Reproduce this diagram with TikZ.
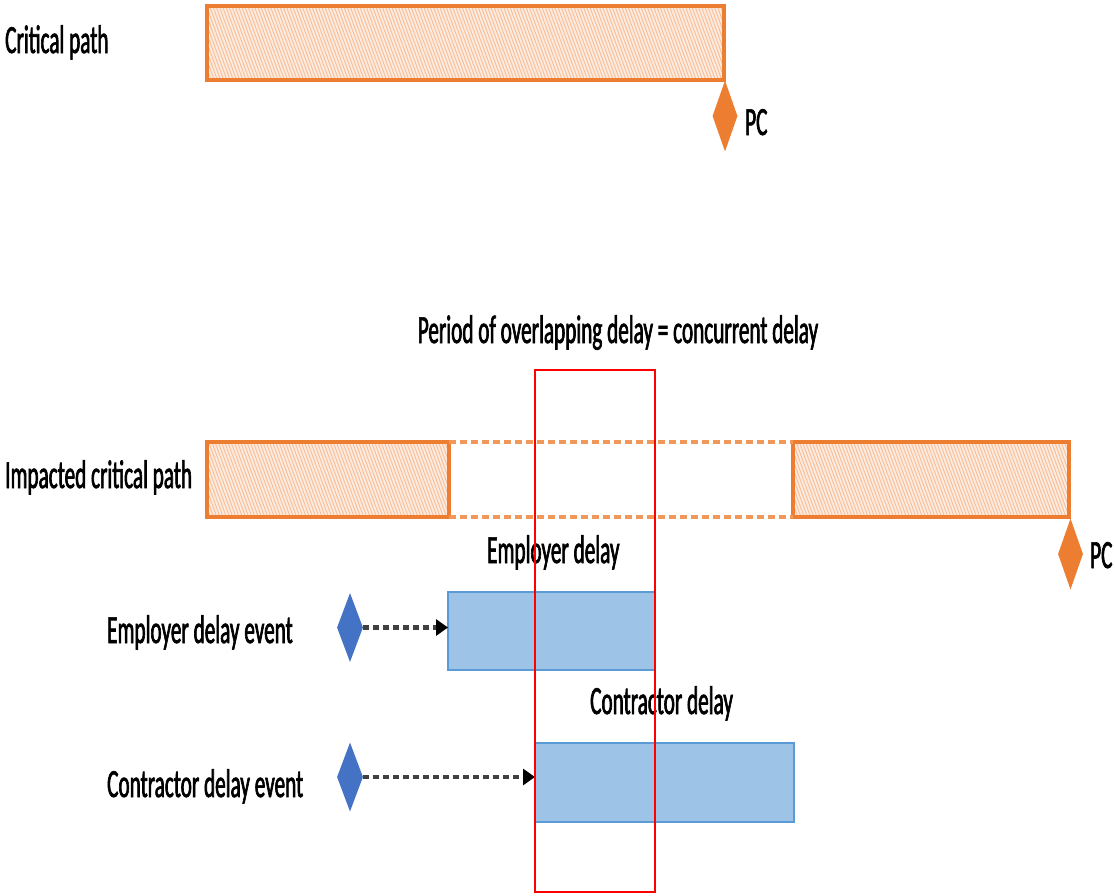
\documentclass[tikz,border=0pt]{standalone}
\usepackage{fontspec}
\setmainfont{Carlito}[FakeStretch=0.53,FakeBold=1.6]
\usetikzlibrary{shapes.geometric,arrows.meta,patterns.meta}
\definecolor{pathorange}{HTML}{ED7D31}
\definecolor{hatchorange}{HTML}{F6BD96}
\definecolor{palepeach}{HTML}{FDEBDF}
\definecolor{delayfill}{HTML}{9DC3E6}
\definecolor{delayedge}{HTML}{5B9BD5}
\definecolor{eventblue}{HTML}{4472C4}
\definecolor{arrowgrey}{HTML}{404040}

\begin{document}
\begin{tikzpicture}[x=1pt,y=-1pt,
  lbl/.style={font=\fontsize{40}{44}\selectfont, inner sep=0pt, text=black},
  pathbar/.style={draw=pathorange, line width=3.5pt, outer sep=0pt, inner sep=0pt,
    preaction={fill=palepeach},
    pattern={Lines[angle=-70,distance=3pt,line width=0.9pt]}, pattern color=hatchorange},
  gapline/.style={draw=pathorange!80, line width=4.5pt, dash pattern=on 7pt off 4pt},
  milestone/.style={diamond, inner sep=0pt, minimum width=25pt, minimum height=71pt, fill=pathorange},
  eventmark/.style={diamond, inner sep=0pt, minimum width=26pt, minimum height=69pt, fill=eventblue},
  delaybar/.style={draw=delayedge, line width=1.5pt, fill=delayfill, outer sep=0pt, inner sep=0pt},
  eventarrow/.style={draw=arrowgrey, line width=4.5pt, dash pattern=on 6pt off 4pt,
    -{Triangle[length=12pt,width=16pt,fill=black,color=black]}},
  overlapbox/.style={draw=red, line width=2pt, inner sep=0pt}
]
\useasboundingbox (0,0) rectangle (1115,895);

% planned programme
\node[lbl, anchor=base west] (cplabel) at (5,53) {Critical path};
\node[pathbar, minimum width=517pt, minimum height=74pt] (cpbar) at (465.5,43) {};
\node[milestone] (pc1) at (725,116) {};
\node[lbl, anchor=base west] (pc1label) at (745,135) {PC};

% impacted programme
\node[lbl, anchor=base] (overlaplabel) at (618,343) {Period of overlapping delay = concurrent delay};
\node[lbl, anchor=base west] (iplabel) at (5,488) {Impacted critical path};
\node[pathbar, minimum width=242pt, minimum height=75pt] (ipleft) at (328,479.5) {};
\node[pathbar, minimum width=276pt, minimum height=75pt] (ipright) at (931,479.5) {};
\draw[gapline] (ipleft.north east) -- (ipright.north west);
\draw[gapline] (ipleft.south east) -- (ipright.south west);
\node[milestone] (pc2) at (1070.5,554) {};
\node[lbl, anchor=base west] (pc2label) at (1090,568) {PC};

% employer delay
\node[lbl, anchor=base west] (emplabel) at (487,563) {Employer delay};
\node[lbl, anchor=base west] (empevlabel) at (107,643) {Employer delay event};
\node[eventmark] (empev) at (350,627.5) {};
\node[delaybar, minimum width=207pt, minimum height=78pt] (empbar) at (551.5,631) {};
\draw[eventarrow] (empev.east) -- (empev.east -| empbar.west);

% contractor delay
\node[lbl, anchor=base west] (conlabel) at (590,714) {Contractor delay};
\node[lbl, anchor=base west] (conevlabel) at (107,797) {Contractor delay event};
\node[eventmark] (conev) at (350,777) {};
\node[delaybar, minimum width=259pt, minimum height=79pt] (conbar) at (664.5,782.5) {};
\draw[eventarrow] (conev.east) -- (conev.east -| conbar.west);

% overlap window
\node[overlapbox, minimum width=120pt, minimum height=522pt] (overlap) at (595,631) {};
\end{tikzpicture}
\end{document}
